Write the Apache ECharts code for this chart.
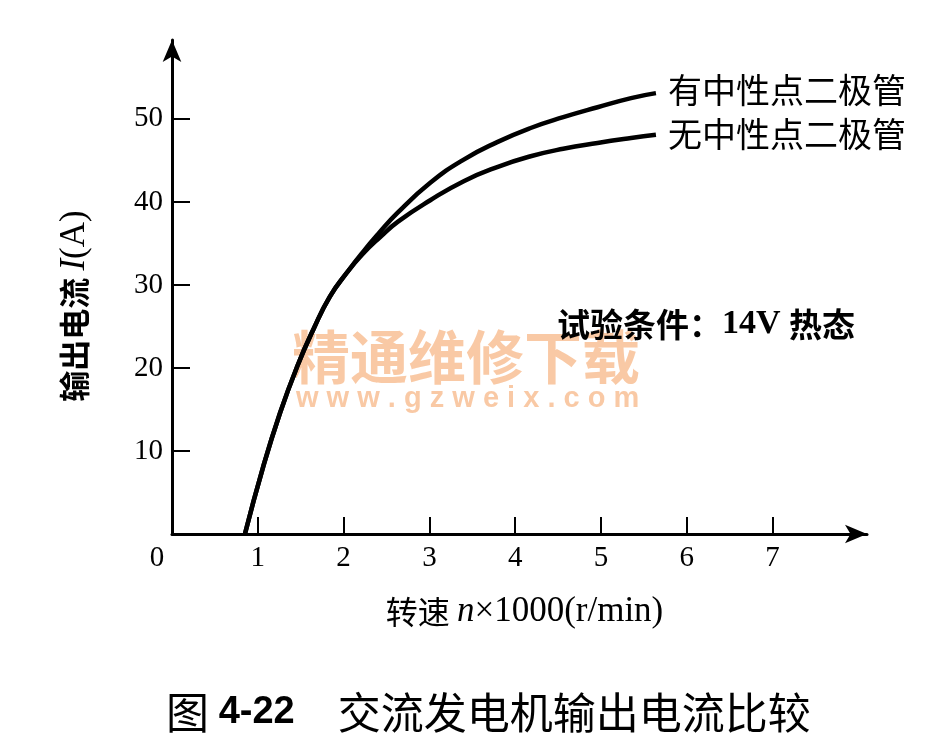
<!DOCTYPE html>
<html>
<head>
<meta charset="utf-8">
<script src="https://cdn.jsdelivr.net/npm/echarts@6/dist/echarts.min.js"></script>
<style>
html,body{margin:0;padding:0;background:#fff;}
#c{width:936px;height:745px;}
</style>
</head>
<body>
<div id="c"></div>
<script>
// Data (speed in ×1000 r/min, current in A)
const speedShared = [0.85, 1.06, 1.26, 1.46, 1.65, 1.84, 2.04];
const currentShared = [0, 8.0, 14.6, 20.2, 24.7, 28.6, 31.5];
const speedWith = [2.22, 2.40, 2.63, 3.01, 3.40, 3.79, 4.18, 4.56, 4.96, 5.35, 5.64];
const currentWith = [33.9, 36.1, 38.7, 42.3, 45.1, 47.2, 48.9, 50.2, 51.4, 52.5, 53.1];
const speedWithout = [2.22, 2.43, 2.63, 3.01, 3.40, 3.79, 4.18, 4.56, 4.96, 5.35, 5.64];
const currentWithout = [33.7, 35.8, 37.6, 40.2, 42.5, 44.2, 45.5, 46.4, 47.1, 47.7, 48.1];
const seriesNames = ['有中性点二极管', '无中性点二极管'];
const xTickValues = [1, 2, 3, 4, 5, 6, 7];
const xLabelValues = [0, 1, 2, 3, 4, 5, 6, 7];
const yTickValues = [10, 20, 30, 40, 50];

function pairs(xs, ys) { return xs.map((x, i) => [x, ys[i]]); }
const dataWith = pairs(speedShared, currentShared).concat(pairs(speedWith, currentWith));
const dataWithout = pairs(speedShared, currentShared).concat(pairs(speedWithout, currentWithout));

const serif = '"Liberation Serif", "Times New Roman", serif';
const cjk = '"Noto Sans CJK SC", sans-serif';

const chart = echarts.init(document.getElementById('c'), null, {renderer: 'canvas'});
chart.setOption({
  backgroundColor: '#fff',
  animation: false,
  title: {
    text: '{a|图 }{b|4-22}{a|　交流发电机输出电流比较}',
    left: 161,
    top: 686,
    textStyle: {
      fontWeight: 'normal',
      rich: {
        a: {fontFamily: cjk, fontSize: 43, fontWeight: 'normal', color: '#000'},
        b: {fontFamily: '"Liberation Sans", Arial, sans-serif', fontWeight: 'bold', fontSize: 38, color: '#000'}
      }
    }
  },
  graphic: [
    {
      type: 'text', left: 292, top: 328, z: 0, silent: true,
      style: {text: '精通维修下载', font: 'bold 58px "Noto Sans CJK SC"', fill: 'rgba(245,165,105,0.6)'}
    },
    {
      type: 'text', left: 296, top: 384, z: 0, silent: true,
      style: {text: 'w w w . g z w e i x . c o m', font: 'bold 29px "Liberation Sans"', fill: 'rgba(245,165,105,0.6)'}
    },
    {
      type: 'text', left: 557, top: 307, z: 10,
      style: {
        text: '{c|试验条件：}{d|14V }{c|热态}',
        rich: {
          c: {fontFamily: cjk, fontSize: 33, fontWeight: 'bold', fill: '#000'},
          d: {fontFamily: serif, fontSize: 34, fontWeight: 'bold', fill: '#000'}
        }
      }
    }
  ],
  grid: {left: 172, right: 69, top: 40, bottom: 211, containLabel: false},
  xAxis: {
    type: 'value',
    min: 0, max: 8.1,
    name: '{c|转速 }{i|n}{s|×1000(r/min)}',
    nameLocation: 'middle',
    nameGap: 60,
    nameTextStyle: {
      padding: [0, 0, 0, 10],
      rich: {
        c: {fontFamily: cjk, fontSize: 32, color: '#000'},
        i: {fontFamily: serif, fontStyle: 'italic', fontSize: 35, color: '#000'},
        s: {fontFamily: serif, fontSize: 35, color: '#000'}
      }
    },
    axisLine: {show: true, onZero: false, symbol: ['none', 'arrow'], symbolSize: [14, 22], lineStyle: {color: '#000', width: 3}},
    axisTick: {show: true, inside: true, length: 17, customValues: xTickValues, lineStyle: {color: '#000', width: 2}},
    axisLabel: {
      customValues: xLabelValues,
      margin: 10,
      fontFamily: serif, fontSize: 29, color: '#000',
      formatter: v => v === 0 ? '{z|0}' : String(v),
      rich: {z: {fontFamily: serif, fontSize: 29, color: '#000', padding: [0, 30, 0, 0]}}
    },
    splitLine: {show: false}
  },
  yAxis: {
    type: 'value',
    min: 0, max: 59.5,
    name: '{c|输出电流 }{i|I}{s|(A)}',
    nameLocation: 'middle',
    nameRotate: 90,
    nameGap: 80,
    nameTextStyle: {
      padding: [0, 38, 0, 0],
      rich: {
        c: {fontFamily: cjk, fontSize: 31, fontWeight: 'bold', color: '#000'},
        i: {fontFamily: serif, fontStyle: 'italic', fontSize: 35, color: '#000'},
        s: {fontFamily: serif, fontSize: 35, color: '#000'}
      }
    },
    axisLine: {show: true, onZero: false, symbol: ['none', 'arrow'], symbolSize: [14, 22], lineStyle: {color: '#000', width: 3}},
    axisTick: {show: true, inside: true, length: 18, customValues: yTickValues, lineStyle: {color: '#000', width: 2}},
    axisLabel: {customValues: yTickValues, margin: 9, fontFamily: serif, fontSize: 29, color: '#000'},
    splitLine: {show: false}
  },
  series: [
    {
      name: seriesNames[0], type: 'line', data: dataWith, smooth: 0.5, showSymbol: false, z: 5,
      lineStyle: {color: '#000', width: 4.5},
      endLabel: {show: true, formatter: '{a}', distance: 12, offset: [0, -3], fontFamily: cjk, fontSize: 34, color: '#000'}
    },
    {
      name: seriesNames[1], type: 'line', data: dataWithout, smooth: 0.5, showSymbol: false, z: 5,
      lineStyle: {color: '#000', width: 4.5},
      endLabel: {show: true, formatter: '{a}', distance: 12, offset: [0, -1], fontFamily: cjk, fontSize: 34, color: '#000'}
    }
  ]
});
</script>
</body>
</html>
